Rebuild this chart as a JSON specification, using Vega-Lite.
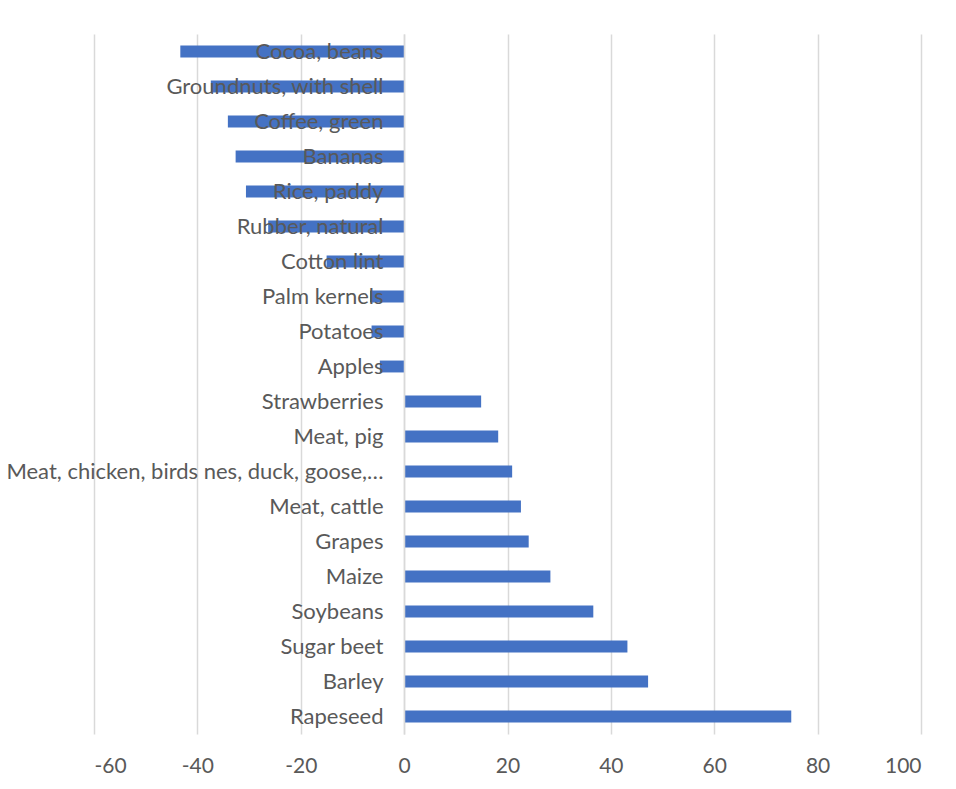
{
  "$schema": "https://vega.github.io/schema/vega-lite/v6.json",
  "width": 827,
  "height": 700,
  "autosize": "none",
  "padding": {"left": 94, "top": 34, "right": 35, "bottom": 55},
  "background": "white",
  "config": {"view": {"stroke": null}, "font": "Lato"},
  "data": {
    "values": [
      {"item": "Cocoa, beans", "change": -43.3},
      {"item": "Groundnuts, with shell", "change": -37.4},
      {"item": "Coffee, green", "change": -34.1},
      {"item": "Bananas", "change": -32.6},
      {"item": "Rice, paddy", "change": -30.6},
      {"item": "Rubber, natural", "change": -26.3},
      {"item": "Cotton lint", "change": -15.0},
      {"item": "Palm kernels", "change": -6.6},
      {"item": "Potatoes", "change": -6.3},
      {"item": "Apples", "change": -4.7},
      {"item": "Strawberries", "change": 14.9},
      {"item": "Meat, pig", "change": 18.2},
      {"item": "Meat, chicken, birds nes, duck, goose, turkey", "change": 20.9},
      {"item": "Meat, cattle", "change": 22.6},
      {"item": "Grapes", "change": 24.1},
      {"item": "Maize", "change": 28.3},
      {"item": "Soybeans", "change": 36.6},
      {"item": "Sugar beet", "change": 43.2},
      {"item": "Barley", "change": 47.2},
      {"item": "Rapeseed", "change": 74.9}
    ]
  },
  "mark": {"type": "bar", "color": "#4472C4"},
  "encoding": {
    "y": {
      "field": "item",
      "type": "nominal",
      "sort": null,
      "scale": {"paddingInner": 0.66, "paddingOuter": 0.33},
      "axis": {
        "title": null,
        "offset": -310,
        "ticks": false,
        "domainColor": "#d9d9d9",
        "domainWidth": 1.5,
        "labelColor": "#595959",
        "labelFont": "Lato",
        "labelFontSize": 22,
        "labelPadding": 21,
        "labelLimit": 379,
        "zindex": 1
      }
    },
    "x": {
      "field": "change",
      "type": "quantitative",
      "scale": {"domain": [-60, 100], "nice": false},
      "axis": {
        "title": null,
        "values": [-60, -40, -20, 0, 20, 40, 60, 80, 100],
        "labelExpr": "'' + datum.value",
        "domain": false,
        "ticks": false,
        "gridColor": "#d9d9d9",
        "gridWidth": 1.5,
        "labelColor": "#595959",
        "labelFont": "Lato",
        "labelFontSize": 21,
        "labelPadding": 21
      }
    }
  }
}
